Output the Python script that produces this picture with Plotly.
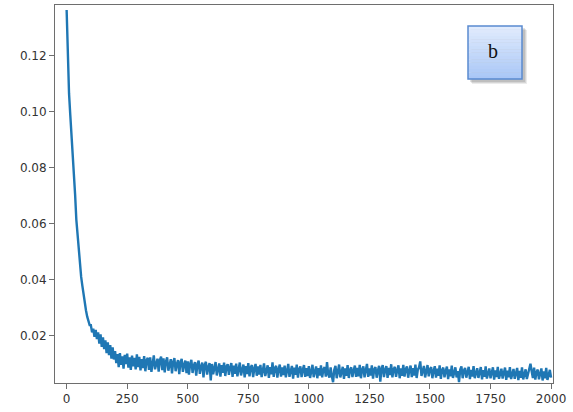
import plotly.graph_objects as go

# ---- data ----
steps = list(range(0, 2001, 5))
loss = [
    0.1364, 0.1180, 0.1065, 0.0990, 0.0925, 0.0860, 0.0800, 0.0705, 0.0615, 0.0555,
    0.0495, 0.0455, 0.0410, 0.0378, 0.0342, 0.0315, 0.0290, 0.0268, 0.0252, 0.0238,
    0.0238, 0.0212, 0.0225, 0.0196, 0.0221, 0.0188, 0.0212, 0.0172, 0.0205, 0.0160,
    0.0194, 0.0152, 0.0183, 0.0138, 0.0176, 0.0131, 0.0166, 0.0118, 0.0158, 0.0115,
    0.0145, 0.0102, 0.0134, 0.0088, 0.0138, 0.0096, 0.0126, 0.0082, 0.0132, 0.0099,
    0.0136, 0.0086, 0.0123, 0.0078, 0.0129, 0.0091, 0.0121, 0.0080, 0.0133, 0.0088,
    0.0124, 0.0076, 0.0116, 0.0084, 0.0127, 0.0073, 0.0112, 0.0121, 0.0078, 0.0123,
    0.0071, 0.0109, 0.0130, 0.0080, 0.0104, 0.0118, 0.0072, 0.0113, 0.0125, 0.0077,
    0.0119, 0.0069, 0.0108, 0.0123, 0.0075, 0.0101, 0.0116, 0.0065, 0.0106, 0.0120,
    0.0073, 0.0099, 0.0113, 0.0063, 0.0105, 0.0117, 0.0071, 0.0095, 0.0111, 0.0066,
    0.0108, 0.0061, 0.0100, 0.0114, 0.0067, 0.0093, 0.0106, 0.0057, 0.0097, 0.0111,
    0.0064, 0.0090, 0.0104, 0.0051, 0.0095, 0.0107, 0.0061, 0.0088, 0.0102, 0.0040,
    0.0099, 0.0062, 0.0092, 0.0106, 0.0058, 0.0087, 0.0101, 0.0054, 0.0095, 0.0067,
    0.0104, 0.0056, 0.0090, 0.0098, 0.0060, 0.0086, 0.0102, 0.0053, 0.0093, 0.0064,
    0.0100, 0.0055, 0.0088, 0.0104, 0.0058, 0.0085, 0.0097, 0.0051, 0.0091, 0.0063,
    0.0102, 0.0055, 0.0087, 0.0095, 0.0052, 0.0083, 0.0099, 0.0057, 0.0090, 0.0061,
    0.0096, 0.0052, 0.0084, 0.0101, 0.0056, 0.0082, 0.0094, 0.0049, 0.0088, 0.0062,
    0.0105, 0.0053, 0.0085, 0.0092, 0.0050, 0.0080, 0.0097, 0.0054, 0.0087, 0.0059,
    0.0093, 0.0051, 0.0082, 0.0099, 0.0053, 0.0079, 0.0092, 0.0047, 0.0086, 0.0060,
    0.0097, 0.0050, 0.0081, 0.0090, 0.0052, 0.0078, 0.0095, 0.0053, 0.0084, 0.0056,
    0.0091, 0.0049, 0.0080, 0.0096, 0.0052, 0.0077, 0.0090, 0.0048, 0.0084, 0.0058,
    0.0094, 0.0051, 0.0079, 0.0088, 0.0054, 0.0106, 0.0062, 0.0050, 0.0087, 0.0055,
    0.0034, 0.0078, 0.0092, 0.0048, 0.0081, 0.0097, 0.0051, 0.0075, 0.0089, 0.0046,
    0.0083, 0.0057, 0.0095, 0.0049, 0.0078, 0.0087, 0.0052, 0.0076, 0.0093, 0.0053,
    0.0085, 0.0055, 0.0096, 0.0048, 0.0079, 0.0090, 0.0051, 0.0077, 0.0099, 0.0053,
    0.0083, 0.0058, 0.0094, 0.0047, 0.0080, 0.0088, 0.0050, 0.0076, 0.0092, 0.0036,
    0.0082, 0.0095, 0.0052, 0.0078, 0.0091, 0.0049, 0.0085, 0.0059, 0.0098, 0.0051,
    0.0080, 0.0089, 0.0053, 0.0077, 0.0094, 0.0048, 0.0083, 0.0057, 0.0096, 0.0054,
    0.0081, 0.0090, 0.0050, 0.0076, 0.0093, 0.0052, 0.0084, 0.0058, 0.0097, 0.0049,
    0.0079, 0.0087, 0.0108, 0.0056, 0.0082, 0.0092, 0.0051, 0.0077, 0.0095, 0.0055,
    0.0080, 0.0088, 0.0048, 0.0075, 0.0091, 0.0050, 0.0082, 0.0057, 0.0094, 0.0046,
    0.0077, 0.0086, 0.0051, 0.0074, 0.0090, 0.0045, 0.0080, 0.0055, 0.0093, 0.0049,
    0.0076, 0.0087, 0.0051, 0.0073, 0.0034, 0.0079, 0.0090, 0.0048, 0.0075, 0.0085,
    0.0050, 0.0072, 0.0089, 0.0045, 0.0078, 0.0054, 0.0091, 0.0048, 0.0074, 0.0084,
    0.0049, 0.0071, 0.0088, 0.0044, 0.0077, 0.0053, 0.0090, 0.0047, 0.0073, 0.0083,
    0.0048, 0.0070, 0.0087, 0.0043, 0.0076, 0.0052, 0.0089, 0.0046, 0.0072, 0.0082,
    0.0047, 0.0069, 0.0086, 0.0042, 0.0075, 0.0051, 0.0088, 0.0045, 0.0071, 0.0081,
    0.0046, 0.0068, 0.0085, 0.0041, 0.0074, 0.0050, 0.0087, 0.0044, 0.0070, 0.0080,
    0.0045, 0.0067, 0.0084, 0.0100, 0.0073, 0.0049, 0.0086, 0.0043, 0.0069, 0.0079,
    0.0044, 0.0066, 0.0083, 0.0040, 0.0072, 0.0048, 0.0085, 0.0042, 0.0068, 0.0078,
    0.0050,
]
x_ticks = [0, 250, 500, 750, 1000, 1250, 1500, 1750, 2000]
y_ticks = [0.02, 0.04, 0.06, 0.08, 0.10, 0.12]
y_tick_labels = ["0.02", "0.04", "0.06", "0.08", "0.10", "0.12"]
panel_label = "b"

# ---- layout geometry (pixels) ----
W, H = 573, 412
ML, MR, MT, MB = 55, 20, 5, 29
PW, PH = W - ML - MR, H - MT - MB


def px(xp):
    return (xp - ML) / PW


def py(yp):
    return (H - MB - yp) / PH


fig = go.Figure()
fig.add_trace(go.Scatter(
    x=steps, y=loss, mode="lines",
    line=dict(color="#1f77b4", width=2.4),
    showlegend=False, hoverinfo="skip",
))

axis_common = dict(
    showline=True, linecolor="#6e6e6e", linewidth=1, mirror=True,
    showgrid=False, zeroline=False,
    ticks="outside", ticklen=5, tickwidth=1, tickcolor="#6e6e6e",
    tickfont=dict(family="DejaVu Sans", size=12, color="#333333"),
)
fig.update_xaxes(range=[-48, 2008], tickvals=x_ticks,
                 ticktext=[str(v) for v in x_ticks], **axis_common)
fig.update_yaxes(range=[0.0031, 0.1382], tickvals=y_ticks,
                 ticktext=y_tick_labels, **axis_common)

# ---- label box with vertical gradient and soft shadow ----
bx0, bx1, by0, by1 = 468, 522, 26, 79
shapes = []
for dx, op in [(5, 0.10), (4, 0.12), (3, 0.15)]:
    shapes.append(dict(type="rect", xref="paper", yref="paper",
                       x0=px(bx0 + dx - 1), x1=px(bx1 + dx), y0=py(by1 + dx), y1=py(by0 + dx - 1),
                       fillcolor=f"rgba(60,60,60,{op})", line=dict(width=0), layer="above"))
top_c = (226, 236, 253)
bot_c = (168, 198, 246)
n = 16
for i in range(n):
    t = (i + 0.5) / n
    c = tuple(round(top_c[k] + (bot_c[k] - top_c[k]) * t) for k in range(3))
    ya = by0 + (by1 - by0) * i / n
    yb = by0 + (by1 - by0) * (i + 1) / n
    shapes.append(dict(type="rect", xref="paper", yref="paper",
                       x0=px(bx0), x1=px(bx1), y0=py(yb + 0.3), y1=py(ya),
                       fillcolor=f"rgb{c}", line=dict(width=0), layer="above"))
shapes.append(dict(type="rect", xref="paper", yref="paper",
                   x0=px(bx0), x1=px(bx1), y0=py(by1), y1=py(by0),
                   fillcolor="rgba(0,0,0,0)", line=dict(color="#5a8ad0", width=1.5),
                   layer="above"))

fig.update_layout(
    width=W, height=H,
    margin=dict(l=ML, r=MR, t=MT, b=MB, pad=0),
    paper_bgcolor="white", plot_bgcolor="white",
    shapes=shapes,
    annotations=[dict(text=panel_label, xref="paper", yref="paper",
                      x=px(493), y=py(51), xanchor="center", yanchor="middle",
                      showarrow=False,
                      font=dict(family="Liberation Serif", size=20, color="#111111"))],
)

fig.write_html(
    "out.html",
    config={"displayModeBar": False},
    post_script="document.body.style.margin='0';document.body.style.overflow='hidden';",
)
